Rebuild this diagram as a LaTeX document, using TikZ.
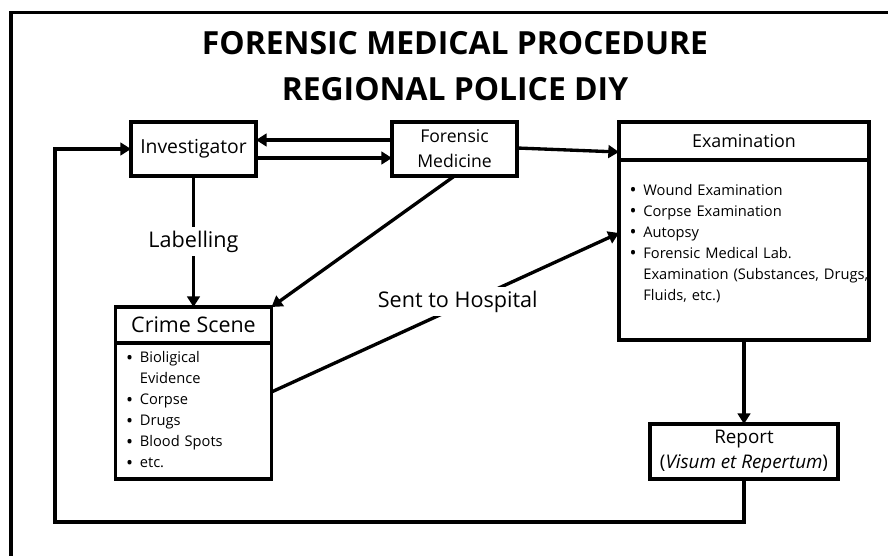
\documentclass[tikz,border=0pt]{standalone}
\usepackage{fontspec}
\setmainfont{Open Sans}
\usepackage{tikz}
\usetikzlibrary{positioning}
\usetikzlibrary{arrows.meta}
\newcommand{\itm}{\raisebox{-1pt}{\fontsize{14pt}{14pt}\selectfont\textbullet}}
\tikzset{
box/.style={
  rectangle,
  inner sep=0pt,
  outer sep=0pt,
  align=center,
  draw=black,
  line width=2.5pt,
  fill=white
  },
lst/.style={
  box,
  align=left,
  inner xsep=8pt,
  font=\fontsize{11pt}{15.75pt}\selectfont
  },
lbl/.style={
  fill=white,
  inner sep=3pt,
  font=\fontsize{16.2pt}{19pt}\selectfont
  }
}

\begin{document}
\begin{tikzpicture}[x=0.75pt,y=-0.75pt,->,>={Triangle[length=8pt,width=9.5pt]},line width=2.5pt]
            \useasboundingbox (0,0) rectangle (888,556);
            \draw[-,line width=2.6pt] (900,12.5) -- (11,12.5) -- (11,570);
            \node (title) at (455,66) [align=center,font=\bfseries\fontsize{23.9pt}{34.5pt}\selectfont] {FORENSIC MEDICAL PROCEDURE\\REGIONAL POLICE DIY};
            \node[box,minimum width=93.75pt,minimum height=40.5pt,font=\fontsize{14.5pt}{17pt}\selectfont] (inv) at (193.5,149) {Investigator};
            \node[box,minimum width=93.75pt,minimum height=40.5pt,font=\fontsize{13.2pt}{18.75pt}\selectfont] (fm) [right=102pt of inv] {Forensic\\Medicine};
            \node[box,minimum width=187.5pt,minimum height=28.5pt,font=\fontsize{13.4pt}{16pt}\selectfont] (exam) [right=76.5pt of fm.north east,anchor=north west] {Examination};
            \node[lst,text width=171.5pt,minimum height=135pt] (examlist) [below=0pt of exam] {%
              \begin{tabular}{@{}l@{\hspace{5pt}}l@{}}
              \itm & Wound Examination\\
              \itm & Corpse Examination\\
              \itm & Autopsy\\
              \itm & Forensic Medical Lab.\\
                   & Examination (Substances, Drugs,\\
                   & Fluids, etc.)\\[10pt]
              \end{tabular}};
            \node[box,minimum width=141pt,minimum height=41.25pt,font=\fontsize{14.1pt}{18.75pt}\selectfont] (rep) [below=63pt of examlist] {Report\\(\textit{Visum et Repertum})};
            \node[box,minimum width=117pt,minimum height=27pt,font=\fontsize{16.1pt}{19pt}\selectfont] (crime) [below=98.25pt of inv] {Crime Scene};
            \node[lst,text width=101pt,minimum height=102pt] (crimelist) [below=0pt of crime] {%
              \begin{tabular}{@{}l@{\hspace{5pt}}l@{}}
              \itm & Bioligical\\
                   & Evidence\\
              \itm & Corpse\\
              \itm & Drugs\\
              \itm & Blood Spots\\
              \itm & etc.
              \end{tabular}};
            \coordinate (loop) at (55,522);
            \path[->]
            ([yshift=6.75pt]fm.west) edge ([yshift=6.75pt]inv.east)
            ([yshift=-6.75pt]inv.east) edge ([yshift=-6.75pt]fm.west)
            ([yshift=0.75pt]fm.east) edge ([yshift=-8.25pt]exam.west)
            (inv) edge node[lbl] {Labelling} (crime)
            (fm.south) edge (crime.north east)
            ([yshift=14.25pt]crimelist.east) edge node[lbl,pos=0.536,yshift=4pt] {Sent to Hospital} ([yshift=12.75pt]examlist.west)
            (examlist) edge (rep)
            ;
            \draw[->] (rep.south) |- (loop) |- (inv.west);
        \end{tikzpicture}
\end{document}
